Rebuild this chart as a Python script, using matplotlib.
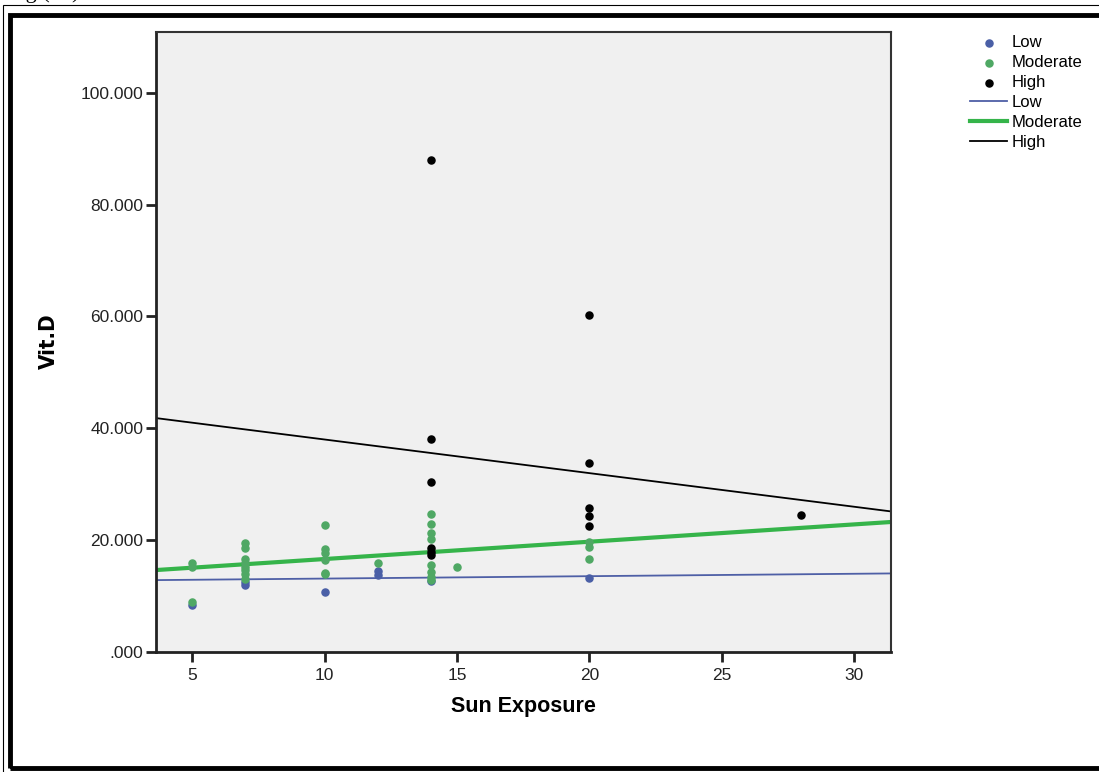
import matplotlib.pyplot as plt
import numpy as np
from matplotlib.patches import Rectangle

# Data
low_x = [5, 7, 7, 10, 12, 12, 14, 20]
low_y = [8.3, 12.5, 12.0, 10.6, 14.5, 13.7, 12.6, 13.1]

moderate_x = [5, 5, 5,
              7, 7, 7, 7, 7, 7, 7, 7,
              10, 10, 10, 10, 10, 10,
              12,
              14, 14, 14, 14, 14, 14, 14, 14, 14,
              15,
              20, 20, 20]
moderate_y = [15.9, 15.1, 8.9,
              19.4, 18.5, 16.5, 15.8, 15.2, 14.6, 13.8, 13.0,
              22.7, 18.3, 17.6, 16.4, 14.1, 13.8,
              15.9,
              24.6, 22.9, 21.2, 20.1, 18.0, 15.5, 14.3, 13.4, 12.8,
              15.2,
              19.7, 18.8, 16.5]

high_x = [14, 14, 14, 14, 14, 14, 20, 20, 20, 20, 20, 28]
high_y = [88.0, 38.0, 30.3, 18.5, 17.9, 17.3, 60.3, 33.7, 25.7, 24.2, 22.5, 24.5]

# fit lines (intercept, slope) as drawn in the chart
low_fit = (12.64, 0.043)
moderate_fit = (13.47, 0.31)
high_fit = (43.99, -0.602)

x_ticks = [5, 10, 15, 20, 25, 30]
y_ticks = [0, 20, 40, 60, 80, 100]
y_tick_labels = [".000", "20.000", "40.000", "60.000", "80.000", "100.000"]

plt.rcParams["font.family"] = ["Liberation Sans", "DejaVu Sans"]

fig = plt.figure(figsize=(10.99, 7.72), dpi=100)
ax = fig.add_axes([0.142, 0.156, 0.6685, 0.803])
ax.set_facecolor("#f0f0f0")

ax.scatter(low_x, low_y, s=26, color="#4a5fa6", label="Low", zorder=3)
ax.scatter(moderate_x, moderate_y, s=26, color="#4fa864", label="Moderate", zorder=3)
ax.scatter(high_x, high_y, s=26, color="black", label="High", zorder=4)

ax.set_xlim(3.63, 31.38)
ax.set_ylim(0, 111)

xs = np.array(ax.get_xlim())
ax.plot(xs, low_fit[0] + low_fit[1] * xs, color="#4e5fa6", lw=1.3, label="Low", zorder=2)
ax.plot(xs, moderate_fit[0] + moderate_fit[1] * xs, color="#35b44a", lw=3, label="Moderate", zorder=2)
ax.plot(xs, high_fit[0] + high_fit[1] * xs, color="black", lw=1.3, label="High", zorder=2)

ax.set_xticks(x_ticks)
ax.set_yticks(y_ticks)
ax.set_yticklabels(y_tick_labels)
ax.tick_params(axis="both", direction="out", length=7, width=2, labelsize=12.5,
               color="#222222", labelcolor="#222222")
ax.tick_params(axis="x", pad=5)
ax.tick_params(axis="y", pad=2)

for side in ["left", "bottom"]:
    ax.spines[side].set_linewidth(2)
    ax.spines[side].set_color("#222222")
for side in ["top", "right"]:
    ax.spines[side].set_linewidth(1.5)
    ax.spines[side].set_color("#333333")

ax.set_xlabel("Sun Exposure", fontsize=15.5, fontweight="bold", labelpad=9)
ax.set_ylabel("Vit.D", fontsize=16, fontweight="bold", family="DejaVu Sans",
              fontstretch="condensed", labelpad=16)

fig.legend(loc="upper left", bbox_to_anchor=(0.877, 0.963), frameon=False,
           fontsize=12, handlelength=2.2, handletextpad=0.25, labelspacing=0.3,
           borderaxespad=0, markerscale=1.0)

# double frame around the figure, as in the source image
fig.patches.append(Rectangle((0.003, -0.01), 1.1, 0.993 + 0.01, transform=fig.transFigure,
                             fill=False, lw=0.8, color="black"))
fig.patches.append(Rectangle((0.009, 0.005), 1.1, 0.981 - 0.005, transform=fig.transFigure,
                             fill=False, lw=3.5, color="black"))
fig.text(0.006, 1.003, "Fig (14)", fontsize=16, family="Liberation Serif", va="baseline")

fig.savefig("out.png", dpi=100)
